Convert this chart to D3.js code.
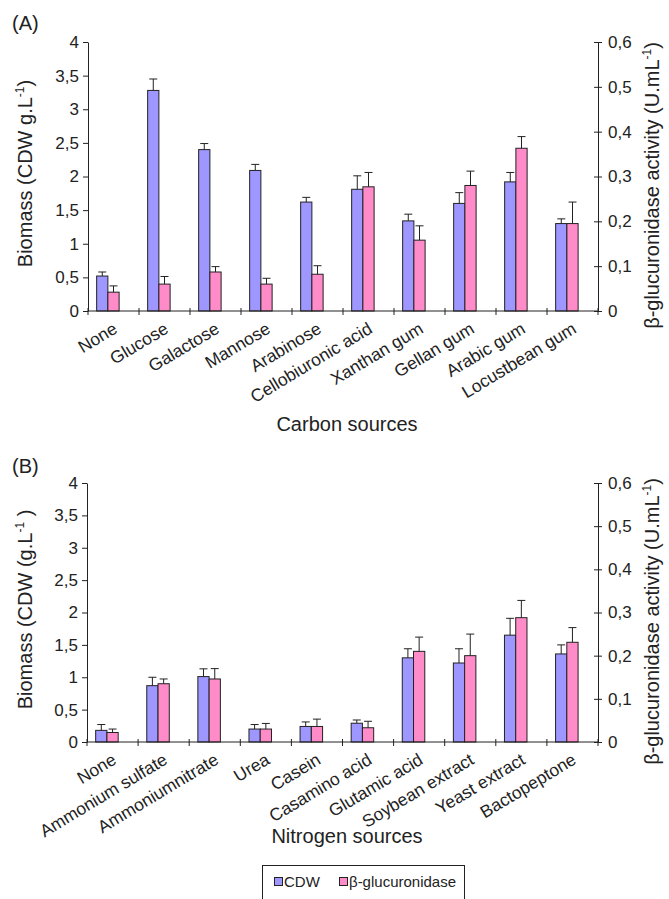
<!DOCTYPE html>
<html>
<head>
<meta charset="utf-8">
<script src="https://cdn.jsdelivr.net/npm/d3@7"></script>
<style>
  body { margin: 0; background: #fff; }
  svg { display: block; }
  svg text { font-family: "Liberation Sans", Arial, sans-serif; }
</style>
</head>
<body>
<div class="chart"></div>
<script>
// panel A - carbon sources
const carbonSources = ["None", "Glucose", "Galactose", "Mannose", "Arabinose",
  "Cellobiuronic acid", "Xanthan gum", "Gellan gum", "Arabic gum", "Locustbean gum"];
const carbonCdw = [0.52, 3.28, 2.40, 2.09, 1.62, 1.81, 1.34, 1.60, 1.92, 1.30];
const carbonCdwSd = [0.06, 0.17, 0.09, 0.09, 0.07, 0.20, 0.10, 0.16, 0.14, 0.07];
const carbonGluc = [0.042, 0.060, 0.087, 0.060, 0.082, 0.277, 0.158, 0.280, 0.363, 0.195];
const carbonGlucSd = [0.014, 0.017, 0.012, 0.013, 0.019, 0.032, 0.032, 0.032, 0.026, 0.048];

// panel B - nitrogen sources
const nitrogenSources = ["None", "Ammonium sulfate", "Ammoniumnitrate", "Urea", "Casein",
  "Casamino acid", "Glutamic acid", "Soybean extract", "Yeast extract", "Bactopeptone"];
const nitrogenCdw = [0.18, 0.87, 1.01, 0.20, 0.24, 0.29, 1.30, 1.22, 1.65, 1.36];
const nitrogenCdwSd = [0.09, 0.13, 0.12, 0.07, 0.07, 0.05, 0.14, 0.22, 0.26, 0.14];
const nitrogenGluc = [0.022, 0.135, 0.146, 0.030, 0.036, 0.033, 0.210, 0.200, 0.288, 0.231];
const nitrogenGlucSd = [0.008, 0.011, 0.024, 0.013, 0.017, 0.015, 0.033, 0.050, 0.040, 0.034];

const biomassTicks = [0, 0.5, 1, 1.5, 2, 2.5, 3, 3.5, 4];
const activityTicks = [0, 0.1, 0.2, 0.3, 0.4, 0.5, 0.6];
const legendLabels = ["CDW", "β-glucuronidase"];

const blue = "#9d97ff";
const pink = "#ff8cc8";
const ink = "#222";
const comma = d => String(d).replace(".", ",");

const svg = d3.select(".chart").append("svg")
  .attr("width", 669)
  .attr("height", 899);

function drawPanel(p) {
  const g = svg.append("g");

  const x = d3.scaleBand().domain(p.cats).range([p.left, p.right]);
  // the original has an empty third slot, so the pair sits left of the category centre
  const slot = d3.scaleBand().domain(["cdw", "gluc", "empty"])
    .range([0, x.bandwidth()]).paddingOuter(0.77);
  const yL = d3.scaleLinear().domain([0, 4]).range([p.bottom, p.top]);
  const yR = d3.scaleLinear().domain([0, 0.6]).range([p.bottom, p.top]);

  const rows = p.cats.map((c, i) => ({ cat: c, cdw: p.cdw[i], cdwSd: p.cdwSd[i], gluc: p.gluc[i], glucSd: p.glucSd[i] }));
  const series = [
    { key: "cdw", sd: "cdwSd", y: yL, color: blue },
    { key: "gluc", sd: "glucSd", y: yR, color: pink }
  ];

  series.forEach(s => {
    const bars = g.append("g");
    bars.selectAll("rect")
      .data(rows)
      .enter()
      .append("rect")
      .attr("x", d => x(d.cat) + slot(s.key))
      .attr("y", d => s.y(d[s.key]))
      .attr("width", slot.bandwidth())
      .attr("height", d => p.bottom - s.y(d[s.key]))
      .attr("fill", s.color)
      .attr("stroke", ink)
      .attr("stroke-width", 1);

    const cx = d => x(d.cat) + slot(s.key) + slot.bandwidth() / 2;
    bars.selectAll("line.err")
      .data(rows)
      .enter()
      .append("line")
      .attr("class", "err")
      .attr("x1", cx).attr("x2", cx)
      .attr("y1", d => s.y(d[s.key]))
      .attr("y2", d => s.y(d[s.key] + d[s.sd]))
      .attr("stroke", ink);
    bars.selectAll("line.cap")
      .data(rows)
      .enter()
      .append("line")
      .attr("class", "cap")
      .attr("x1", d => cx(d) - 4).attr("x2", d => cx(d) + 4)
      .attr("y1", d => s.y(d[s.key] + d[s.sd]))
      .attr("y2", d => s.y(d[s.key] + d[s.sd]))
      .attr("stroke", ink);
  });

  // left axis
  const leftAxis = g.append("g")
    .attr("transform", `translate(${p.left},0)`)
    .call(d3.axisLeft(yL).tickValues(biomassTicks).tickSize(5).tickSizeOuter(0).tickPadding(4).tickFormat(comma));

  // right axis, ticks cross the line
  const rightAxis = g.append("g")
    .attr("transform", `translate(${p.right},0)`)
    .call(d3.axisRight(yR).tickValues(activityTicks).tickSize(4).tickSizeOuter(0).tickPadding(6).tickFormat(comma));
  rightAxis.selectAll(".tick line").attr("x1", -4);

  [leftAxis, rightAxis].forEach(a => {
    a.attr("font-family", null).attr("font-size", null);
    a.selectAll("path, line").attr("stroke", ink);
    a.selectAll("text").attr("fill", ink).attr("font-size", 17);
  });

  // bottom axis with ticks on the category boundaries
  g.append("line")
    .attr("x1", p.left).attr("x2", p.right)
    .attr("y1", p.bottom).attr("y2", p.bottom)
    .attr("stroke", ink);
  const bounds = p.cats.map(c => x(c)).concat([p.right]);
  g.selectAll("line.xtick")
    .data(bounds)
    .enter()
    .append("line")
    .attr("class", "xtick")
    .attr("x1", d => d).attr("x2", d => d)
    .attr("y1", p.bottom - 3).attr("y2", p.bottom + 4)
    .attr("stroke", ink);

  g.selectAll("text.cat")
    .data(p.cats)
    .enter()
    .append("text")
    .attr("class", "cat")
    .attr("transform", c => `translate(${x(c) + x.bandwidth() / 2 + 5},${p.bottom + 21}) rotate(-31)`)
    .attr("text-anchor", "end")
    .attr("font-size", 17.5)
    .attr("fill", ink)
    .text(c => c);

  // titles
  g.append("text")
    .attr("x", 12).attr("y", p.tagY)
    .attr("font-size", 20).attr("fill", ink)
    .text(p.tag);

  g.append("text")
    .attr("x", 347).attr("y", p.xTitleY)
    .attr("text-anchor", "middle")
    .attr("font-size", 20).attr("fill", ink)
    .text(p.xTitle);

  const midY = (p.top + p.bottom) / 2;
  const lt = g.append("text")
    .attr("transform", `translate(32,${midY - 3}) rotate(-90)`)
    .attr("text-anchor", "middle")
    .attr("font-size", 20).attr("fill", ink);
  lt.append("tspan").text(p.yTitle[0]);
  lt.append("tspan").attr("font-size", 12).attr("dy", -8).text("-1");
  lt.append("tspan").attr("dy", 8).text(p.yTitle[1]);

  const rt = g.append("text")
    .attr("transform", `translate(659,${midY + 9}) rotate(-90)`)
    .attr("text-anchor", "middle")
    .attr("font-size", 20).attr("fill", ink);
  rt.append("tspan").text("β-glucuronidase activity (U.mL");
  rt.append("tspan").attr("font-size", 12).attr("dy", -8).text("-1");
  rt.append("tspan").attr("dy", 8).text(")");
}

drawPanel({
  cats: carbonSources, cdw: carbonCdw, cdwSd: carbonCdwSd, gluc: carbonGluc, glucSd: carbonGlucSd,
  left: 88, right: 598, top: 42, bottom: 311,
  tag: "(A)", tagY: 30, xTitle: "Carbon sources", xTitleY: 431,
  yTitle: ["Biomass (CDW g.L", ")"]
});

drawPanel({
  cats: nitrogenSources, cdw: nitrogenCdw, cdwSd: nitrogenCdwSd, gluc: nitrogenGluc, glucSd: nitrogenGlucSd,
  left: 87, right: 598, top: 483, bottom: 742,
  tag: "(B)", tagY: 473, xTitle: "Nitrogen sources", xTitleY: 843,
  yTitle: ["Biomass (CDW (g.L", " )"]
});

// legend
const legend = svg.append("g");
legend.append("rect")
  .attr("x", 262.5).attr("y", 865.5)
  .attr("width", 202).attr("height", 40)
  .attr("fill", "none").attr("stroke", ink);
const legendX = [274, 339];
const legendColors = [blue, pink];
legend.selectAll("rect.key")
  .data(legendLabels)
  .enter()
  .append("rect")
  .attr("class", "key")
  .attr("x", (d, i) => legendX[i] + 0.5).attr("y", 877.5)
  .attr("width", 8).attr("height", 8)
  .attr("fill", (d, i) => legendColors[i])
  .attr("stroke", ink);
legend.selectAll("text")
  .data(legendLabels)
  .enter()
  .append("text")
  .attr("x", (d, i) => legendX[i] + 10).attr("y", 887)
  .attr("font-size", 15).attr("fill", ink)
  .text(d => d);
</script>
</body>
</html>
